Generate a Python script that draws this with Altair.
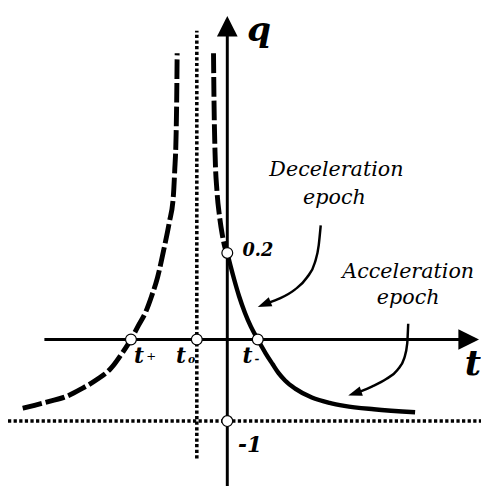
import altair as alt
import pandas as pd

# ---------------- data (schematic units: t horizontal, q vertical) ----------------
# left dashed branch
left_t = [-6.710, -6.323, -5.839, -5.290, -4.774, -4.290, -3.806, -3.452, -3.161, -2.935,
          -2.677, -2.484, -2.290, -2.065, -1.903, -1.774, -1.726, -1.677, -1.661, -1.645]
left_q = [-0.843, -0.807, -0.759, -0.699, -0.602, -0.494, -0.349, -0.169, 0.0, 0.157,
          0.337, 0.530, 0.759, 1.133, 1.434, 1.735, 2.060, 2.542, 2.904, 3.506]
# right dashed branch (above the q axis crossing)
rdash_t = [-0.452, -0.435, -0.403, -0.339, -0.258, -0.161, -0.081, 0.0]
rdash_q = [3.506, 2.904, 2.301, 1.819, 1.518, 1.277, 1.133, 1.060]
# solid branch
solid_t = [0.0, 0.097, 0.226, 0.387, 0.581, 0.774, 1.0, 1.258, 1.484, 1.677, 1.903,
           2.226, 2.774, 3.355, 3.839, 4.806, 6.161]
solid_q = [1.060, 0.916, 0.735, 0.530, 0.325, 0.157, 0.0, -0.169, -0.301, -0.410, -0.506,
           -0.602, -0.711, -0.777, -0.813, -0.855, -0.892]
# annotation arrows
decel_t = [3.065, 3.0, 2.871, 2.613, 2.226, 1.742, 1.323]
decel_q = [1.398, 1.157, 0.940, 0.759, 0.614, 0.506, 0.446]
accel_t = [5.935, 5.903, 5.806, 5.581, 5.226, 4.742, 4.355]
accel_q = [0.193, -0.048, -0.229, -0.373, -0.482, -0.578, -0.639]
head_t = [1.0, 3.968]
head_q = [0.398, -0.687]
head_angle = [248, 251]
# marked points
pt_names = ["t+", "to", "t-", "0.2", "-1"]
pt_t = [-3.161, -1.0, 1.0, 0.0, 0.0]
pt_q = [0.0, 0.0, 0.0, 1.060, -1.0]
# axes / guide lines (segments)
axis_seg = {"t": [-6.0, 7.71], "q": [0.0, 0.0]}
qaxis_seg = {"t": [0.0, 0.0], "q": [-1.795, 3.75]}
hdot = {"t": [-7.194, 8.323], "q": [-1.0, -1.0]}
vdot = {"t": [-1.0, -1.0], "q": [-1.458, 3.783]}
axis_tip_t = [0.0, 8.258]
axis_tip_q = [3.964, 0.0]
axis_tip_angle = [0, 90]

# ---------------- chart ----------------
W, H = 481, 482
xs = alt.Scale(domain=[-7.194, 8.323], nice=False, zero=False)
ys = alt.Scale(domain=[-1.795, 4.012], nice=False, zero=False)
X = alt.X("t:Q", scale=xs, axis=None)
Y = alt.Y("q:Q", scale=ys, axis=None)
FONT = "DejaVu Serif"


def df(t, q, **extra):
    d = pd.DataFrame({"t": t, "q": q})
    for k, v in extra.items():
        d[k] = v
    return d


def seg(d, **mk):
    return alt.Chart(df(d["t"], d["q"])).mark_line(**mk).encode(x=X, y=Y)


dot_style = dict(color="black", strokeWidth=3.6, strokeDash=[3.3, 2.4], strokeCap="butt")
layers = [
    seg(hdot, **dot_style),
    seg(vdot, **dot_style),
    seg(axis_seg, color="black", strokeWidth=3),
    seg(qaxis_seg, color="black", strokeWidth=3),
    alt.Chart(df(axis_tip_t, axis_tip_q, a=axis_tip_angle)).mark_point(
        shape="M0,0L-1,2L1,2Z", filled=True, color="black", opacity=1, size=441, strokeWidth=0
    ).encode(x=X, y=Y, angle=alt.Angle("a:Q", scale=None)),
    alt.Chart(df(left_t, left_q)).mark_line(
        color="black", strokeWidth=5, strokeDash=[20, 4], strokeCap="butt", interpolate="monotone"
    ).encode(x=X, y=Y),
    alt.Chart(df(rdash_t, rdash_q)).mark_line(
        color="black", strokeWidth=5, strokeDash=[20, 4], strokeCap="butt", interpolate="monotone"
    ).encode(x=X, y=Y),
    alt.Chart(df(solid_t, solid_q)).mark_line(
        color="black", strokeWidth=4.5, interpolate="monotone"
    ).encode(x=X, y=Y),
    alt.Chart(df(decel_t, decel_q)).mark_line(
        color="black", strokeWidth=2.5, interpolate="monotone"
    ).encode(x=X, y=Y),
    alt.Chart(df(accel_t, accel_q)).mark_line(
        color="black", strokeWidth=2.5, interpolate="monotone"
    ).encode(x=X, y=Y),
    alt.Chart(df(head_t, head_q, a=head_angle)).mark_point(
        shape="M0,0L-0.7,2L0.7,2Z", filled=True, color="black", opacity=1, size=196, strokeWidth=0
    ).encode(x=X, y=Y, angle=alt.Angle("a:Q", scale=None)),
    alt.Chart(df(pt_t, pt_q, name=pt_names)).mark_point(
        shape="circle", filled=True, fill="white", stroke="black", strokeWidth=1.2,
        opacity=1, size=121
    ).encode(x=X, y=Y),
]


def text(label, t, q, size, weight="bold", style="italic", align="left"):
    return alt.Chart(df([t], [q], label=[label])).mark_text(
        font=FONT, fontSize=size, fontWeight=weight, fontStyle=style, align=align,
        baseline="alphabetic", color="black"
    ).encode(x=X, y=Y, text="label:N")


layers += [
    text("q", 0.645, 3.66, 35),
    text("t", 7.79, -0.434, 36),
    text("Deceleration", 3.581, 2.0, 21, weight="normal", align="center"),
    text("epoch", 3.516, 1.663, 21, weight="normal", align="center"),
    text("Acceleration", 5.935, 0.759, 21, weight="normal", align="center"),
    text("epoch", 5.935, 0.434, 21, weight="normal", align="center"),
    text("0.2", 0.5, 1.024, 18),
    text("-1", 0.35, -1.373, 22),
    text("t", -3.06, -0.289, 22),
    text("+", -2.66, -0.253, 12, weight="normal", style="normal"),
    text("t", -1.68, -0.289, 22),
    text("o", -1.29, -0.289, 11),
    text("t", 0.50, -0.289, 22),
    text("-", 0.89, -0.289, 12),
]

chart = alt.layer(*layers).properties(
    width=W, height=H, padding=0, autosize=alt.AutoSizeParams(type="none"), background="white"
).configure_view(stroke=None)

chart.save("out.html", embed_options={"renderer": "svg", "actions": False})
